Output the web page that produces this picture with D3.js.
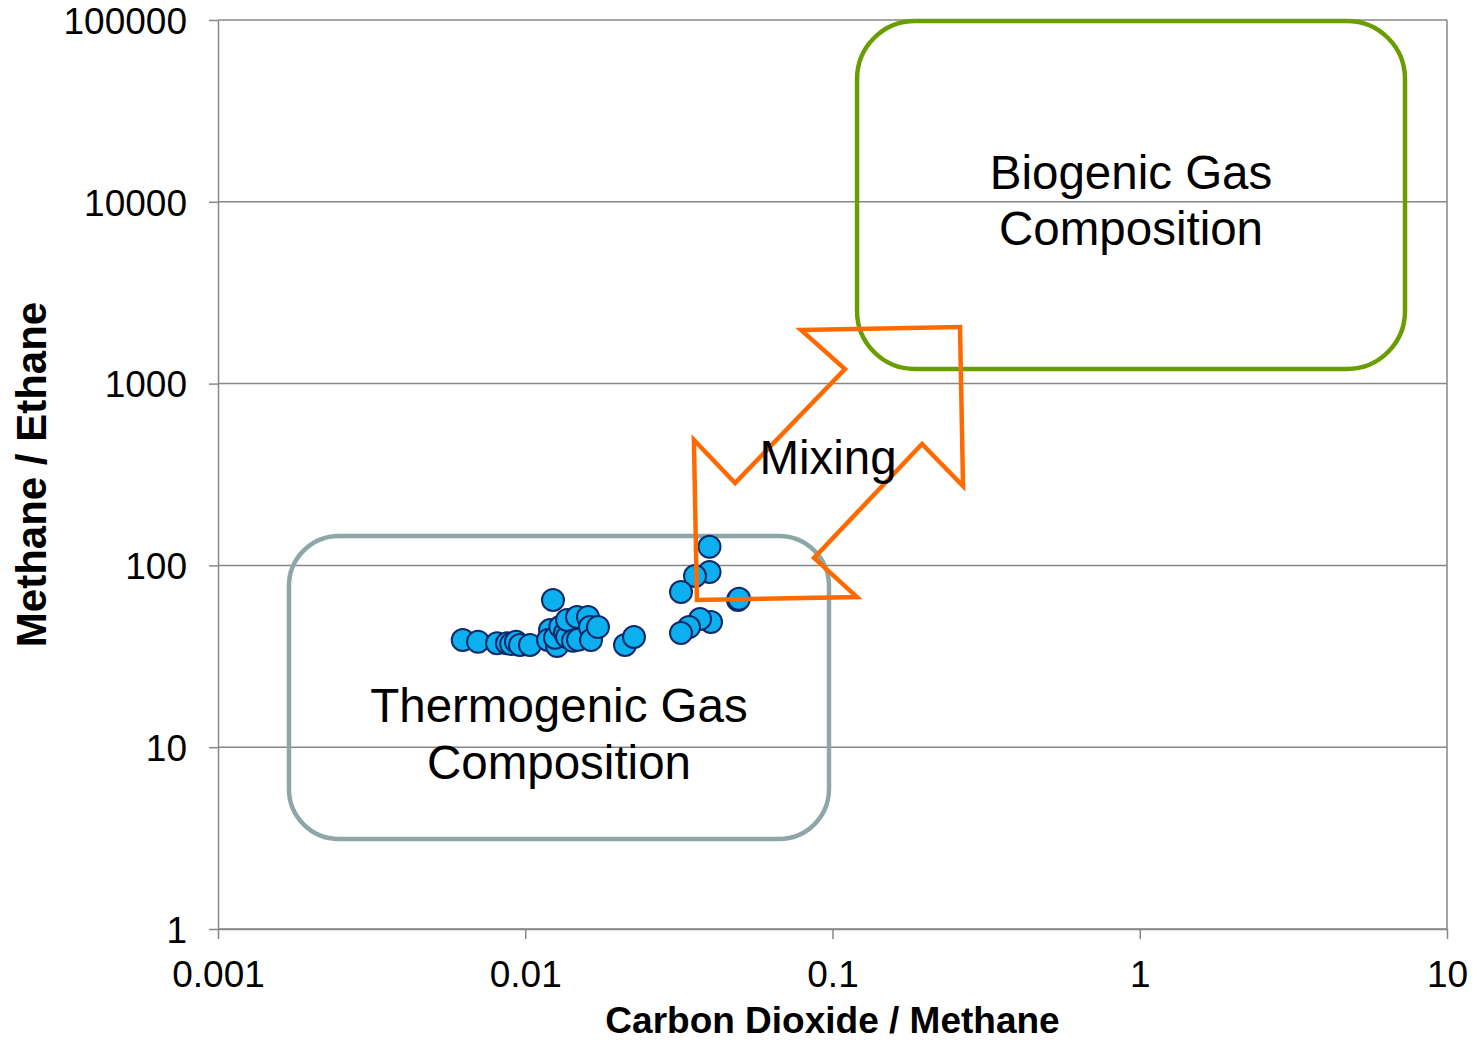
<!DOCTYPE html>
<html>
<head>
<meta charset="utf-8">
<script src="https://cdn.jsdelivr.net/npm/d3@7"></script>
<style>
  html, body { margin: 0; padding: 0; background: #fff; }
  svg { display: block; font-family: "Liberation Sans", Arial, sans-serif; }
</style>
</head>
<body>
<svg id="chart" width="1477" height="1042"></svg>
<script>
// Gas ratio samples: CO2/CH4 (x) against CH4/C2H6 (y)
const co2Methane = [
  0.00626, 0.00702, 0.00809, 0.00872, 0.00900, 0.00933, 0.00961, 0.01036,
  0.01231, 0.01204, 0.01186, 0.01269, 0.01250, 0.01300, 0.01347, 0.01368, 0.01368,
  0.01430, 0.01474, 0.01485, 0.01600, 0.01624, 0.01637, 0.01725,
  0.02112, 0.02259,
  0.03978, 0.03978, 0.03569, 0.03213, 0.04925, 0.04962, 0.04023, 0.03706, 0.03412, 0.03213
];
const methaneEthane = [
  38.9, 38.0, 37.3, 37.3, 37.0, 38.0, 36.5, 36.5,
  64.5, 44.1, 38.9, 36.0, 40.0, 46.0, 42.5, 40.4, 50.1,
  38.5, 52.0, 39.0, 52.0, 45.8, 38.9, 45.8,
  36.5, 40.4,
  126.7, 92.0, 87.4, 71.4, 64.5, 65.5, 48.8, 50.7, 45.8, 42.5
];

const xTickValues = [0.001, 0.01, 0.1, 1, 10];
const xTickLabels = ["0.001", "0.01", "0.1", "1", "10"];
const yTickValues = [1, 10, 100, 1000, 10000, 100000];
const yTickLabels = ["1", "10", "100", "1000", "10000", "100000"];

// Composition fields, in data units: [xMin, xMax, yMin, yMax]
const thermogenicField = [0.001702, 0.0974, 3.126, 145.1];
const biogenicField = [0.1202, 7.30, 1203, 98740];

// Outline of the double-headed mixing arrow, in data units
const mixingArrow = [
  [0.0790, 1972], [0.2600, 2048], [0.2660, 273], [0.1956, 465.6],
  [0.0871, 109.9], [0.1202, 67.0], [0.0362, 64.5], [0.0354, 489.6],
  [0.0482, 284], [0.1098, 1203]
];

// Annotation labels: text, x, y (data units)
const fieldLabels = [
  ["Biogenic Gas", Math.sqrt(0.1202 * 7.30), 11760],
  ["Composition", Math.sqrt(0.1202 * 7.30), 5787],
  ["Thermogenic Gas", Math.sqrt(0.001702 * 0.0974), 13.76],
  ["Composition", Math.sqrt(0.001702 * 0.0974), 6.686],
  ["Mixing", 0.0967, 318]
];

const points = co2Methane.map((v, i) => ({ x: v, y: methaneEthane[i] }));

const svg = d3.select("#chart");
const plotLeft = 218, plotRight = 1447, plotTop = 20, plotBottom = 929;

const x = d3.scaleLog().domain([0.001, 10]).range([plotLeft, plotRight]);
const y = d3.scaleLog().domain([1, 100000]).range([plotBottom, plotTop]);

const gridColor = "#878787";

// Horizontal gridlines
svg.append("g")
  .selectAll("line")
  .data(yTickValues)
  .join("line")
  .attr("x1", plotLeft).attr("x2", plotRight)
  .attr("y1", d => y(d)).attr("y2", d => y(d))
  .attr("stroke", gridColor)
  .attr("stroke-width", 1.5);

// Plot border on the right
svg.append("line")
  .attr("x1", plotRight).attr("x2", plotRight)
  .attr("y1", plotTop).attr("y2", plotBottom)
  .attr("stroke", gridColor).attr("stroke-width", 1.5);

// Y axis
const yAxis = d3.axisLeft(y)
  .tickValues(yTickValues)
  .tickFormat((d, i) => yTickLabels[i])
  .tickSizeInner(9).tickSizeOuter(0).tickPadding(22);
const gy = svg.append("g").attr("transform", `translate(${plotLeft},0)`).call(yAxis);

// X axis
const xAxis = d3.axisBottom(x)
  .tickValues(xTickValues)
  .tickFormat((d, i) => xTickLabels[i])
  .tickSizeInner(10).tickSizeOuter(0).tickPadding(22);
const gx = svg.append("g").attr("transform", `translate(0,${plotBottom})`).call(xAxis);

[gx, gy].forEach(g => {
  g.select(".domain").attr("stroke", gridColor).attr("stroke-width", 1.5);
  g.selectAll(".tick line").attr("stroke", gridColor).attr("stroke-width", 1.5);
  g.selectAll(".tick text")
    .attr("fill", "#000")
    .style("font-family", "'Liberation Sans', Arial, sans-serif")
    .style("font-size", "37px");
});
gy.selectAll(".tick text").attr("dy", "0.36em");
gx.selectAll(".tick text").attr("dy", "0.71em");

// Axis titles
svg.append("text")
  .attr("x", (plotLeft + plotRight) / 2).attr("y", 1033)
  .attr("text-anchor", "middle")
  .style("font-size", "37px").style("font-weight", "bold")
  .text("Carbon Dioxide / Methane");

svg.append("text")
  .attr("transform", `translate(46,${(plotTop + plotBottom) / 2}) rotate(-90)`)
  .attr("text-anchor", "middle")
  .style("font-size", "42px").style("font-weight", "bold")
  .text("Methane / Ethane");

// Composition fields
function fieldRect(f, color, r) {
  svg.append("rect")
    .attr("x", x(f[0])).attr("y", y(f[3]))
    .attr("width", x(f[1]) - x(f[0]))
    .attr("height", y(f[2]) - y(f[3]))
    .attr("rx", r).attr("ry", r)
    .attr("fill", "none")
    .attr("stroke", color)
    .attr("stroke-width", 4.5);
}
fieldRect(thermogenicField, "#8DA7A9", 50);
fieldRect(biogenicField, "#6A9E00", 58);

// Sample points
svg.append("g")
  .selectAll("circle")
  .data(points)
  .join("circle")
  .attr("cx", d => x(d.x))
  .attr("cy", d => y(d.y))
  .attr("r", 11)
  .attr("fill", "#0DB0EE")
  .attr("stroke", "#0E2A6B")
  .attr("stroke-width", 2);

// Mixing arrow
svg.append("path")
  .attr("d", d3.line().x(d => x(d[0])).y(d => y(d[1]))(mixingArrow) + "Z")
  .attr("fill", "none")
  .attr("stroke", "#FF6A00")
  .attr("stroke-width", 4.5)
  .attr("stroke-linejoin", "miter");

// Annotation text
svg.append("g")
  .selectAll("text")
  .data(fieldLabels)
  .join("text")
  .attr("x", d => x(d[1]))
  .attr("y", d => y(d[2]))
  .attr("text-anchor", "middle")
  .style("font-size", "47.5px")
  .attr("fill", "#000")
  .text(d => d[0]);
</script>
</body>
</html>
